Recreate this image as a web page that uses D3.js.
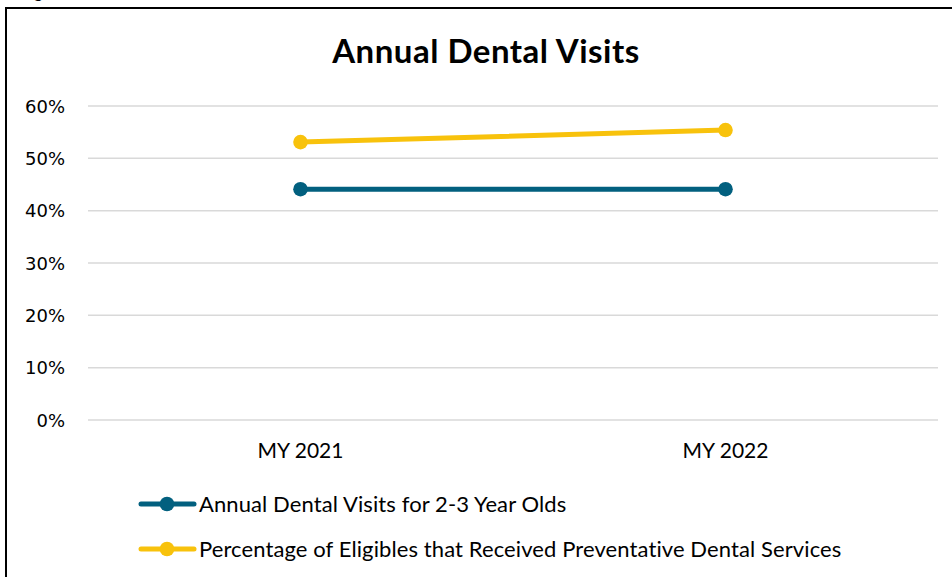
<!DOCTYPE html>
<html><head><meta charset="utf-8">
<script src="https://cdn.jsdelivr.net/npm/d3@7"></script>
<style>html,body{margin:0;padding:0;background:#fff;}svg{display:block;}</style>
</head><body>
<svg id="chart" width="952" height="577"></svg>
<script>
const categories = ["MY 2021", "MY 2022"];
const seriesNames = ["Annual Dental Visits for 2-3 Year Olds", "Percentage of Eligibles that Received Preventative Dental Services"];
const dentalVisits = [44.1, 44.1];
const preventative = [53.1, 55.4];
const yTicks = [0, 10, 20, 30, 40, 50, 60];
const colors = ["#02607F", "#F8C20C"];

const font = "Lato, 'Open Sans', sans-serif";
const svg = d3.select("#chart");
const W = 952, H = 577;
const plot = {left: 88, right: 938, top: 106, bottom: 420};

// frame
svg.append("path").attr("d", `M6,${H+2} L6,8 L${W+2},8`).attr("fill","none").attr("stroke","#000").attr("stroke-width",2);
// caption above the frame (clipped by the page edge, as in the reference)
svg.append("text").attr("x", 20).attr("y", -2).attr("font-family", font).attr("font-weight","bold")
  .attr("font-size", 17).attr("fill","#000").text("Figure");

svg.append("text").attr("x", 486).attr("y", 63).attr("text-anchor","middle")
  .attr("font-family", font).attr("font-weight","bold").attr("font-size", 33)
  .attr("letter-spacing", 0.5).attr("fill","#000")
  .text("Annual Dental Visits");

const x = d3.scaleBand().domain(categories).range([plot.left, plot.right]);
const y = d3.scaleLinear().domain([0, 60]).range([plot.bottom, plot.top]);

// gridlines
svg.append("g").selectAll("line").data(yTicks).join("line")
  .attr("x1", plot.left).attr("x2", plot.right)
  .attr("y1", d => y(d)).attr("y2", d => y(d))
  .attr("stroke", "#D9D9D9").attr("stroke-width", 1.5);

// y axis labels
const yAxis = d3.axisLeft(y).tickValues(yTicks).tickFormat(d => d + "%").tickSize(0).tickPadding(0);
const ya = svg.append("g").attr("transform", `translate(65,0)`).call(yAxis);
ya.select(".domain").remove();
ya.selectAll("text").attr("font-family", "'DejaVu Sans', sans-serif").attr("font-size", 18)
  .attr("fill", "#000").attr("dy","0.35em");

// x axis labels
const xAxis = d3.axisBottom(x).tickSize(0).tickPadding(0);
const xa = svg.append("g").attr("transform", `translate(0,451)`).call(xAxis);
xa.select(".domain").remove();
xa.selectAll("text").attr("font-family", font).attr("font-size", 21).attr("fill", "#000").attr("dy","0.35em");

const series = [dentalVisits, preventative];
const line = d3.line().x((d,i) => x(categories[i]) + x.bandwidth()/2).y(d => y(d));
series.forEach((vals, s) => {
  svg.append("path").datum(vals).attr("d", line).attr("fill","none")
    .attr("stroke", colors[s]).attr("stroke-width", 5).attr("stroke-linecap","round");
  svg.append("g").selectAll("circle").data(vals).join("circle")
    .attr("cx", (d,i) => x(categories[i]) + x.bandwidth()/2).attr("cy", d => y(d))
    .attr("r", 7.3).attr("fill", colors[s]);
});

// legend
const legY = [504, 549];
seriesNames.forEach((name, s) => {
  const g = svg.append("g").attr("transform", `translate(0,${legY[s]})`);
  g.append("line").attr("x1", 141).attr("x2", 194).attr("y1", 0).attr("y2", 0)
    .attr("stroke", colors[s]).attr("stroke-width", 5).attr("stroke-linecap","round");
  g.append("circle").attr("cx", 167).attr("cy", 0).attr("r", 7.3).attr("fill", colors[s]);
  g.append("text").attr("x", 199).attr("y", 0).attr("dy","0.35em")
    .attr("font-family", font).attr("font-size", 22).attr("letter-spacing", 0.1)
    .attr("fill","#000").text(name);
});
</script>
</body></html>
